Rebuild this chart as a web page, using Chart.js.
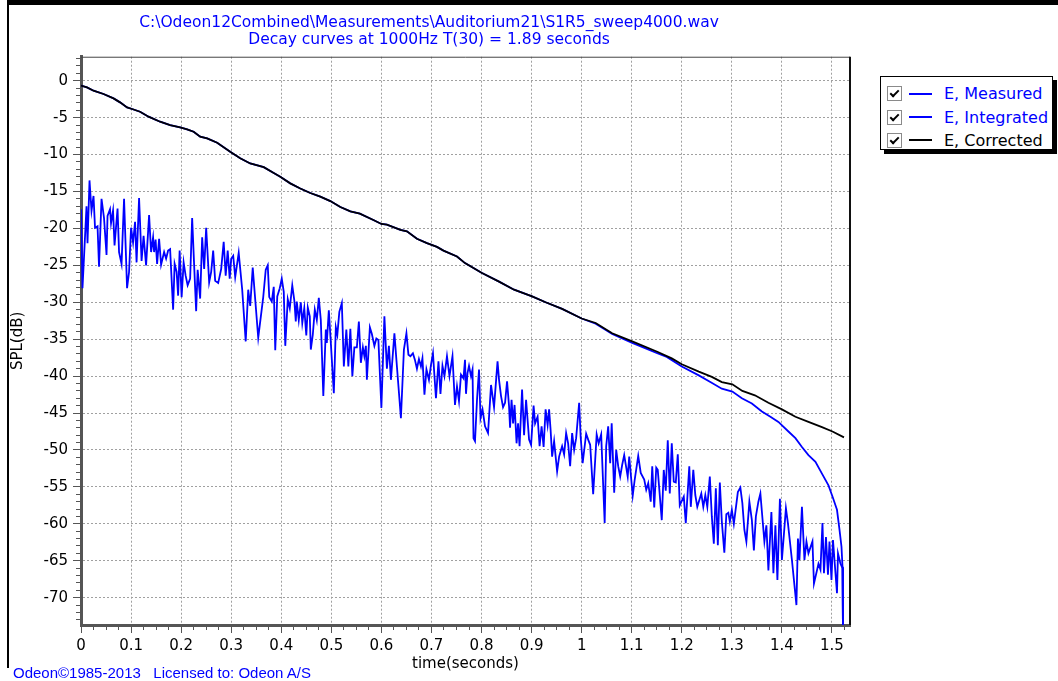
<!DOCTYPE html>
<html>
<head>
<meta charset="utf-8">
<script src="https://cdn.jsdelivr.net/npm/chart.js@4.4.0/dist/chart.umd.min.js"></script>
<style>
html, body { margin: 0; padding: 0; background: #fff; }
body { width: 1058px; height: 681px; position: relative; overflow: hidden; font-family: 'DejaVu Sans', Verdana, sans-serif; }
#frame { position: absolute; left: 7px; top: 0; width: 1051px; height: 668px; border-top: 5px solid #000; border-left: 2px solid #000; box-sizing: border-box; }
#chart { position: absolute; left: 0; top: 0; }
#legend { position: absolute; left: 880px; top: 76px; width: 173px; height: 74px; background: #fff; border: 1px solid #000; box-shadow: 4px 4px 0 #000; box-sizing: border-box; padding-top: 5px; }
.item { height: 23.4px; display: flex; align-items: center; font-size: 16px; white-space: nowrap; }
.cb { width: 13px; height: 13px; border: 1px solid #8a8a8a; margin-left: 6px; position: relative; background: #fff; flex: none; }
.cb::after { content: ''; position: absolute; left: 4px; top: 1px; width: 3px; height: 7px; border: solid #000; border-width: 0 2px 2px 0; transform: rotate(45deg); }
.swatch { width: 23px; height: 2px; margin-left: 7px; margin-right: 12px; flex: none; }
#credit { position: absolute; left: 13px; top: 664px; font: 15px 'Liberation Sans', Arial, sans-serif; color: #0000ff; white-space: pre; }
</style>
</head>
<body>
<div id="frame"></div>
<canvas id="chart" width="870" height="681"></canvas>
<div id="legend"></div>
<div id="credit">Odeon©1985-2013   Licensed to: Odeon A/S</div>
<script>
const TITLE_LINES = ['C:\\Odeon12Combined\\Measurements\\Auditorium21\\S1R5_sweep4000.wav', 'Decay curves at 1000Hz T(30) = 1.89 seconds'];
const X_TITLE = 'time(seconds)';
const Y_TITLE = 'SPL(dB)';
const SERIES_NAMES = ['E, Measured', 'E, Integrated', 'E, Corrected'];
const SERIES_COLORS = ['#0000ff', '#0000ff', '#000000'];
const TIME_MIN = 0, TIME_MAX = 1.536;
const SPL_MIN = -73.7, SPL_MAX = 3.25;

// E, Measured (noisy energy curve)
const measuredTime = [
  0.000,0.003,0.011,0.013,0.017,0.021,0.025,0.028,0.033,0.036,0.041,0.046,0.051,0.053,0.058,0.060,0.064,0.067,0.073,0.076,
  0.081,0.086,0.092,0.096,0.100,0.104,0.108,0.111,0.116,0.121,0.125,0.130,0.136,0.140,0.144,0.146,0.149,0.152,0.156,0.160,
  0.166,0.170,0.174,0.178,0.184,0.187,0.191,0.194,0.197,0.201,0.205,0.209,0.213,0.218,0.222,0.226,0.230,0.233,0.238,0.242,
  0.246,0.250,0.256,0.260,0.264,0.268,0.274,0.280,0.285,0.289,0.293,0.297,0.300,0.304,0.308,0.315,0.322,0.329,0.334,0.338,
  0.343,0.354,0.364,0.369,0.373,0.376,
  0.381,0.385,0.388,0.392,0.397,0.401,0.405,0.408,0.413,0.417,0.422,0.426,0.429,0.431,0.435,0.439,0.442,0.446,0.450,0.453,
  0.457,0.459,0.463,0.467,0.471,0.475,0.479,0.484,0.489,0.491,0.495,0.499,0.505,0.509,0.512,0.516,0.521,0.525,0.530,0.534,
  0.538,0.542,0.546,0.551,0.555,0.559,0.563,0.566,0.569,0.571,0.577,0.581,0.586,0.590,0.594,0.600,0.606,0.611,0.615,0.619,
  0.626,0.630,0.634,0.639,0.645,0.650,0.654,0.658,0.663,0.667,0.671,0.675,0.679,0.682,0.686,0.690,0.695,0.699,0.703,0.706,
  0.709,0.714,0.718,0.722,0.726,0.731,0.736,0.742,0.747,0.751,0.755,0.759,0.764,0.767,
  0.769,0.772,0.775,0.779,0.782,0.784,0.787,0.791,0.795,0.798,0.802,0.807,0.813,0.819,0.825,0.832,0.835,0.839,0.843,0.847,
  0.851,0.855,0.857,0.860,0.863,0.866,0.870,0.873,0.876,0.881,0.885,0.889,0.895,0.899,0.904,0.907,0.912,0.916,0.920,0.924,
  0.928,0.932,0.935,0.938,0.941,0.945,0.951,0.955,0.961,0.965,0.969,0.973,0.977,0.981,0.985,0.989,0.995,0.998,1.002,1.009,
  1.013,1.017,1.023,1.027,1.030,1.034,1.039,1.046,1.049,1.053,1.057,1.060,1.065,1.069,1.073,1.077,1.081,1.085,1.092,1.095,
  1.102,1.106,1.113,1.118,1.125,1.129,1.133,1.138,1.141,1.145,1.149,
  1.152,1.160,1.164,1.168,1.172,1.176,1.180,1.184,1.188,1.192,1.196,1.204,1.208,1.215,1.218,1.223,1.227,1.231,1.239,1.243,
  1.247,1.251,1.256,1.260,1.264,1.268,1.272,1.276,1.280,1.285,1.289,1.293,1.296,1.300,1.304,1.312,1.317,1.321,1.325,1.329,
  1.335,1.340,1.344,1.348,1.353,1.357,1.365,1.369,1.373,1.379,1.383,1.387,1.391,1.396,1.400,1.408,1.412,1.420,1.429,1.432,
  1.435,1.440,1.445,1.449,1.453,1.461,1.464,1.473,1.477,1.481,1.484,1.488,1.492,1.495,1.499,1.502,1.507,1.510,1.512,1.517,
  1.521,1.522
];
const measuredSpl = [
  -17.4,-28.1,-17.0,-22.0,-13.5,-17.6,-15.6,-19.9,-19.7,-25.2,-16.0,-18.6,-23.6,-18.3,-17.4,-19.3,-17.6,-22.3,-17.3,-23.2,
  -24.8,-16.0,-28.1,-25.9,-19.9,-21.9,-19.1,-24.6,-15.9,-24.4,-21.0,-25.0,-18.2,-23.2,-21.2,-23.2,-21.5,-24.8,-21.4,-24.9,
  -23.2,-24.1,-23.0,-22.8,-31.0,-24.8,-25.9,-29.1,-23.0,-29.3,-24.6,-26.4,-27.7,-26.8,-18.6,-25.0,-31.2,-25.6,-29.5,-21.2,
  -25.5,-19.9,-27.3,-25.9,-23.0,-27.1,-27.4,-25.5,-21.8,-26.4,-23.0,-26.8,-24.1,-23.7,-26.6,-23.3,-28.3,-35.3,-28.3,-30.5,
  -25.3,-34.8,-29.3,-25.6,-25.0,-29.3,
  -29.9,-27.9,-36.5,-29.2,-28.1,-26.8,-28.6,-35.9,-29.6,-30.8,-27.7,-29.7,-32.6,-29.9,-32.4,-30.0,-32.8,-30.8,-34.5,-30.7,
  -31.9,-36.4,-34.4,-31.0,-32.4,-29.4,-32.4,-42.7,-33.7,-35.5,-31.1,-35.5,-42.3,-33.4,-34.4,-31.3,-30.1,-38.7,-33.7,-38.7,
  -33.6,-40.0,-36.1,-36.1,-32.6,-38.2,-36.1,-37.3,-35.9,-40.5,-33.4,-34.3,-35.9,-34.9,-35.1,-44.3,-31.9,-39.0,-35.9,-40.5,
  -34.2,-37.8,-41.3,-45.7,-36.4,-34.2,-37.1,-37.3,-36.9,-37.8,-39.0,-37.7,-38.7,-37.6,-42.5,-39.1,-40.5,-38.5,-36.9,-40.0,
  -43.0,-38.0,-42.4,-38.6,-40.0,-37.3,-40.0,-37.3,-43.9,-41.4,-43.4,-39.8,-40.3,-37.8,
  -42.4,-39.6,-38.6,-40.0,-39.1,-48.4,-48.8,-43.2,-39.1,-45.7,-44.5,-46.8,-47.7,-41.2,-44.2,-38.0,-40.5,-42.7,-44.2,-43.6,
  -40.7,-44.1,-47.0,-43.2,-46.4,-43.9,-49.1,-46.4,-49.5,-41.8,-48.0,-43.2,-48.6,-49.3,-44.0,-46.4,-45.5,-49.5,-46.8,-49.6,
  -44.5,-46.6,-44.5,-47.3,-50.9,-48.8,-52.9,-50.9,-49.5,-50.6,-47.7,-49.1,-52.2,-47.7,-50.0,-48.4,-43.6,-48.2,-51.8,-47.8,
  -48.6,-49.3,-56.0,-51.4,-47.9,-49.1,-47.9,-59.9,-49.5,-46.8,-51.8,-46.4,-55.8,-50.0,-52.2,-53.6,-52.0,-50.7,-53.6,-50.9,
  -56.2,-54.0,-50.8,-53.1,-54.0,-55.4,-54.5,-57.0,-52.2,-57.8,-52.4,
  -52.7,-59.5,-52.7,-55.5,-48.7,-55.9,-49.1,-54.3,-54.4,-50.6,-57.5,-56.3,-59.9,-52.2,-57.7,-52.7,-56.1,-57.7,-55.9,-57.7,
  -56.1,-57.7,-53.6,-59.0,-62.7,-55.2,-62.9,-54.4,-59.7,-63.9,-58.7,-58.5,-59.7,-58.1,-60.0,-55.7,-55.1,-57.2,-60.8,-62.4,
  -57.0,-59.5,-63.6,-59.0,-57.0,-55.9,-62.4,-60.2,-66.3,-58.4,-66.7,-60.2,-67.6,-56.6,-64.9,-57.9,-59.9,-64.9,-71.0,-62.0,
  -64.9,-57.7,-64.9,-62.4,-64.0,-62.4,-68.1,-65.4,-66.2,-59.9,-66.7,-61.8,-66.9,-62.4,-67.6,-62.2,-66.7,-69.4,-64.0,-65.4,
  -66.0,-75.0
];

// E, Integrated (backward integrated decay)
const integratedTime = [
  0.000,0.012,0.025,0.045,0.065,0.078,0.092,0.102,0.118,0.135,0.158,0.178,0.198,0.212,0.225,0.238,0.252,0.272,0.298,0.318,
  0.338,0.365,0.385,0.398,0.418,0.438,0.458,0.478,0.498,0.518,0.538,0.557,0.585,0.600,0.611,0.638,0.651,0.671,0.691,0.711,
  0.724,0.751,0.767,0.800,0.835,0.865,0.901,0.928,0.961,1.000,1.028,1.061,1.101,1.151,1.170,1.200,1.234,1.257,1.280,1.301,
  1.320,1.340,1.360,1.377,1.393,1.413,1.427,1.440,1.453,1.467,1.480,1.493,1.501,1.510,1.515,1.519,1.521,1.522
];
const integratedSpl = [
  -0.67,-0.90,-1.35,-1.80,-2.39,-2.93,-3.61,-3.83,-4.20,-4.87,-5.55,-6.00,-6.32,-6.59,-6.91,-7.58,-7.81,-8.40,-9.62,-10.5,
  -11.2,-11.7,-12.5,-13.0,-13.9,-14.6,-15.2,-15.7,-16.3,-17.1,-17.7,-18.0,-18.9,-19.4,-19.5,-20.2,-20.4,-21.4,-22.0,-22.5,
  -23.0,-23.8,-24.7,-26.0,-27.2,-28.3,-29.2,-30.0,-30.9,-32.2,-32.9,-34.3,-35.5,-36.9,-37.4,-38.7,-39.9,-40.8,-41.7,-42.1,
  -43.0,-43.7,-44.8,-45.5,-46.2,-47.5,-48.4,-49.6,-50.7,-51.6,-53.2,-54.8,-56.3,-58.1,-60.8,-63.1,-65.8,-75.0
];

// E, Corrected
const correctedTime = [
  0.000,0.012,0.025,0.045,0.065,0.078,0.092,0.102,0.118,0.135,0.158,0.178,0.198,0.212,0.225,0.238,0.252,0.272,0.298,0.318,
  0.338,0.365,0.385,0.398,0.418,0.438,0.458,0.478,0.498,0.518,0.538,0.557,0.585,0.600,0.611,0.638,0.651,0.671,0.691,0.711,
  0.724,0.751,0.767,0.800,0.835,0.865,0.901,0.928,0.961,1.000,1.028,1.061,1.101,1.151,1.180,1.200,1.234,1.260,1.280,1.301,
  1.321,1.346,1.373,1.400,1.427,1.453,1.480,1.501,1.524
];
const correctedSpl = [
  -0.67,-0.90,-1.35,-1.80,-2.39,-2.93,-3.61,-3.83,-4.20,-4.87,-5.55,-6.00,-6.32,-6.59,-6.91,-7.58,-7.81,-8.40,-9.62,-10.5,
  -11.2,-11.7,-12.5,-13.0,-13.9,-14.6,-15.2,-15.7,-16.3,-17.1,-17.7,-18.0,-18.9,-19.4,-19.5,-20.2,-20.4,-21.4,-22.0,-22.5,
  -23.0,-23.8,-24.7,-26.0,-27.2,-28.3,-29.2,-30.0,-30.9,-32.2,-32.8,-34.2,-35.3,-36.7,-37.6,-38.4,-39.4,-40.1,-40.8,-41.1,
  -42.0,-42.6,-43.6,-44.5,-45.5,-46.2,-46.9,-47.5,-48.3
];

function toPoints(ts, ys) {
    return ts.map((t, i) => ({ x: t, y: ys[i] }));
}

function buildLegend() {
    const box = document.getElementById('legend');
    SERIES_NAMES.forEach((name, i) => {
        const row = document.createElement('div');
        row.className = 'item';
        row.style.color = SERIES_COLORS[i];
        row.innerHTML = `<span class="cb"></span><span class="swatch" style="background:${SERIES_COLORS[i]}"></span><span>${name}</span>`;
        box.appendChild(row);
    });
}

// thin frame on top and right of the plot area
const plotFrame = {
    id: 'plotFrame',
    afterDatasetsDraw(chart) {
        const { ctx, chartArea: a } = chart;
        ctx.save();
        ctx.strokeStyle = '#444';
        ctx.lineWidth = 1;
        ctx.beginPath(); ctx.moveTo(a.left, a.top + 0.5); ctx.lineTo(a.right, a.top + 0.5); ctx.stroke();
        ctx.strokeStyle = '#111';
        ctx.lineWidth = 2;
        ctx.beginPath(); ctx.moveTo(a.right, a.top); ctx.lineTo(a.right, a.bottom); ctx.stroke();
        ctx.restore();
    }
};

const tickFont = { family: "'DejaVu Sans', Verdana, sans-serif", size: 15 };
const isMultiple = (v, step) => Math.abs(v / step - Math.round(v / step)) < 1e-6;

buildLegend();

new Chart(document.getElementById('chart').getContext('2d'), {
    type: 'line',
    data: {
        datasets: [
            { label: SERIES_NAMES[0], data: toPoints(measuredTime, measuredSpl), borderColor: SERIES_COLORS[0], borderWidth: 1.8, order: 2 },
            { label: SERIES_NAMES[1], data: toPoints(integratedTime, integratedSpl), borderColor: SERIES_COLORS[1], borderWidth: 1.8, order: 1 },
            { label: SERIES_NAMES[2], data: toPoints(correctedTime, correctedSpl), borderColor: SERIES_COLORS[2], borderWidth: 1.8, order: 0 }
        ]
    },
    options: {
        responsive: false,
        animation: false,
        devicePixelRatio: 1,
        elements: { point: { radius: 0 }, line: { tension: 0 } },
        layout: { padding: { left: 8, top: 6, right: 20, bottom: 0 } },
        plugins: {
            legend: { display: false },
            tooltip: { enabled: false },
            title: {
                display: true, text: TITLE_LINES, color: '#0000ff',
                font: { family: "'DejaVu Sans', Verdana, sans-serif", size: 15.5, weight: 'normal', lineHeight: 1.12 },
                padding: { top: 8, bottom: 8 }
            }
        },
        scales: {
            x: {
                type: 'linear', position: 'bottom', weight: 1, min: TIME_MIN, max: TIME_MAX,
                ticks: { stepSize: 0.1, includeBounds: false, autoSkip: false, maxRotation: 0, padding: 4, color: '#000', font: tickFont,
                         callback: v => isMultiple(v, 0.1) ? String(Math.round(v * 10) / 10) : '' },
                grid: { color: '#a0a0a0', lineWidth: 1, tickLength: 8, tickColor: '#555', tickWidth: 1 },
                border: { display: true, color: '#555', width: 3, dash: [2, 2] },
                title: { display: true, text: X_TITLE, color: '#000', font: tickFont, padding: { top: 0, bottom: 8 } },
                afterFit: s => { s.height = 56; }
            },
            xMinor: {
                type: 'linear', position: 'bottom', weight: 0, min: TIME_MIN, max: TIME_MAX,
                ticks: { display: false, stepSize: 0.025, includeBounds: false, autoSkip: false },
                grid: { drawOnChartArea: false, tickLength: 5, tickColor: '#555', tickWidth: 1 },
                border: { display: false },
                afterFit: s => { s.height = 0; }
            },
            y: {
                type: 'linear', position: 'left', weight: 1, min: SPL_MIN, max: SPL_MAX,
                ticks: { stepSize: 5, includeBounds: false, autoSkip: false, padding: 5, color: '#000', font: tickFont,
                         callback: v => String(v) },
                grid: { color: '#a0a0a0', lineWidth: 1, tickLength: 8, tickColor: '#555', tickWidth: 1 },
                border: { display: true, color: '#555', width: 3, dash: [2, 2] },
                title: { display: true, text: Y_TITLE, color: '#000', font: tickFont, padding: { top: 1.5, bottom: 0 } },
                afterFit: s => { s.width = 73; }
            },
            yMinor: {
                type: 'linear', position: 'left', weight: 0, min: SPL_MIN, max: SPL_MAX,
                ticks: { display: false, stepSize: 1, includeBounds: false, autoSkip: false },
                grid: { drawOnChartArea: false, tickLength: 5, tickColor: '#555', tickWidth: 1 },
                border: { display: false },
                afterFit: s => { s.width = 0; }
            }
        }
    },
    plugins: [plotFrame]
});
</script>
</body>
</html>
